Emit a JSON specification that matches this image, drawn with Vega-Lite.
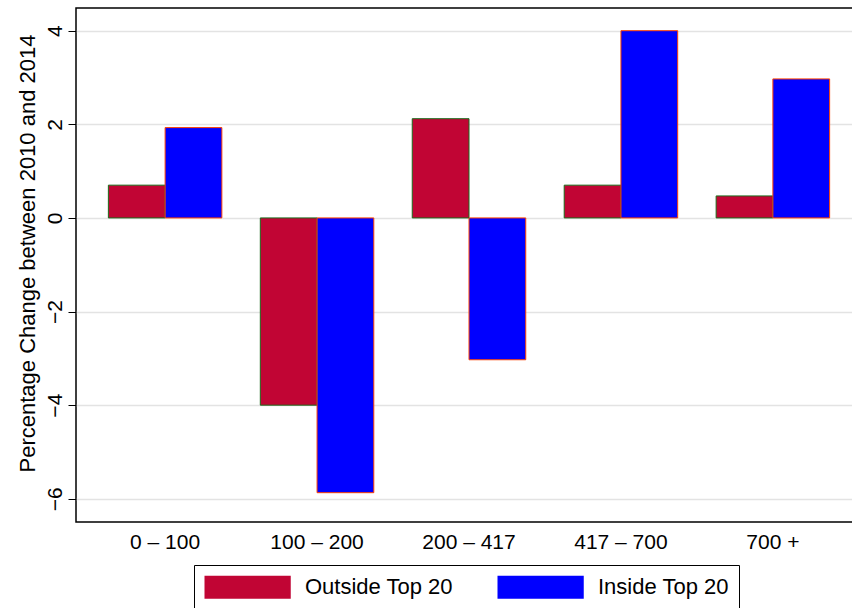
{
"$schema":"https://vega.github.io/schema/vega-lite/v6.json",
"width":777,"height":514,
"autosize":{"type":"none"},
"padding":{"left":76,"top":8,"right":0,"bottom":86},
"background":"white",
"config":{"font":"Liberation Sans","view":{"stroke":"black","strokeWidth":1.5}},
"data":{"values":[
{"g":"0 – 100","s":"Outside Top 20","v":0.7},
{"g":"0 – 100","s":"Inside Top 20","v":1.93},
{"g":"100 – 200","s":"Outside Top 20","v":-4.0},
{"g":"100 – 200","s":"Inside Top 20","v":-5.87},
{"g":"200 – 417","s":"Outside Top 20","v":2.12},
{"g":"200 – 417","s":"Inside Top 20","v":-3.03},
{"g":"417 – 700","s":"Outside Top 20","v":0.7},
{"g":"417 – 700","s":"Inside Top 20","v":4.0},
{"g":"700 +","s":"Outside Top 20","v":0.47},
{"g":"700 +","s":"Inside Top 20","v":2.97}
]},
"mark":{"type":"bar","strokeWidth":1},
"encoding":{
"x":{"field":"g","type":"nominal","sort":null,"title":null,
 "scale":{"paddingInner":0.253,"paddingOuter":0.213,"range":[0,786]},
 "axis":{"labelAngle":0,"labelFontSize":21,"labelColor":"black","ticks":false,"domain":false,"labelPadding":9}},
"xOffset":{"field":"s","type":"nominal","sort":["Outside Top 20","Inside Top 20"]},
"y":{"field":"v","type":"quantitative","scale":{"domain":[-6.496,4.485],"nice":false,"zero":false},
 "title":"Percentage Change between 2010 and 2014",
 "axis":{"values":[-6,-4,-2,0,2,4],"labelAngle":-90,"labelAlign":"center","labelBaseline":"bottom","labelFontSize":21,"labelColor":"black","tickColor":"black","tickSize":8,"domain":false,"titleFontSize":22,"titleFontWeight":"normal","titleColor":"black","titleY":245,"gridColor":"#e3e3e3","gridWidth":1.5,"labelPadding":3,"titlePadding":5}},
"fill":{"field":"s","type":"nominal","sort":["Outside Top 20","Inside Top 20"],
 "scale":{"range":["#C10534","#0000FF"]},
 "legend":{"orient":"none","legendX":118,"legendY":557,"direction":"horizontal","title":null,
  "labelFontSize":22,"labelColor":"black","symbolType":"M-1,-1H6.5V1H-1Z","symbolSize":529,"symbolStrokeWidth":1,
  "strokeColor":"black","padding":10,"columnPadding":44,"labelOffset":77,"offset":0}},
"stroke":{"field":"s","type":"nominal","sort":["Outside Top 20","Inside Top 20"],
 "scale":{"range":["#1a6b1a","#FF4000"]},"legend":null}
}
}
